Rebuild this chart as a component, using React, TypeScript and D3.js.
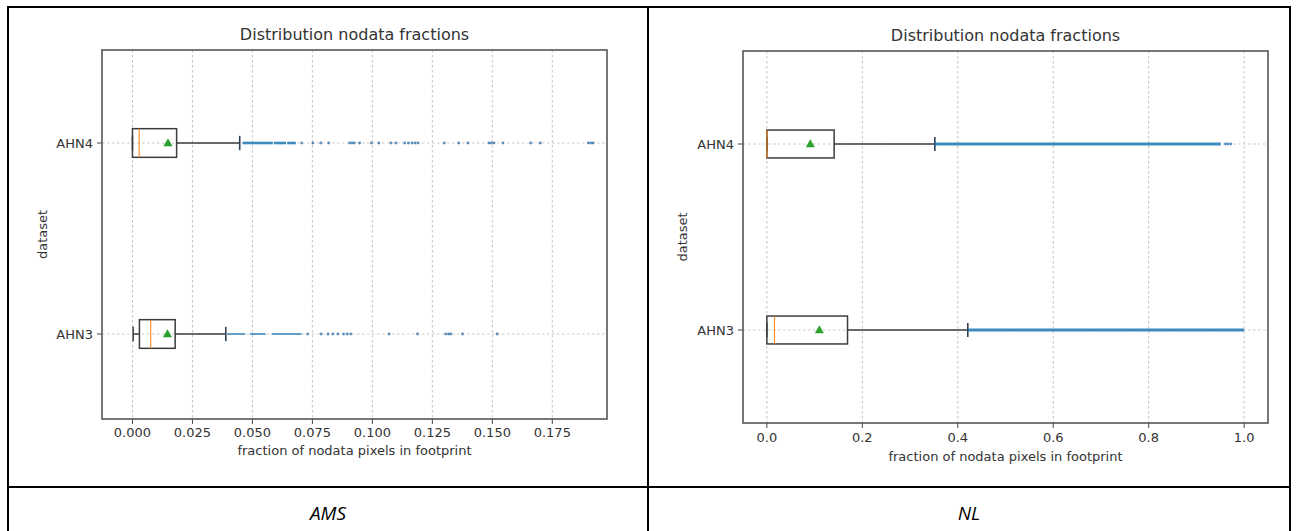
import React from "react";
import * as d3 from "d3";

// categories, bottom to top in the plot: AHN3 sits at position 1, AHN4 at 2
const datasets = ["AHN3", "AHN4"];

// AMS panel (values ordered like datasets)
const amsTicks = [0, 0.025, 0.05, 0.075, 0.1, 0.125, 0.15, 0.175];
const amsDomain = [-0.0127, 0.1978];
const amsQ1 = [0.0029, 0.0];
const amsMedian = [0.0076, 0.0028];
const amsQ3 = [0.0178, 0.0184];
const amsMean = [0.0146, 0.0148];
const amsWhiskerLo = [0.0003, 0.0];
const amsWhiskerHi = [0.0389, 0.0447];
const amsFlierRuns = [
  [[0.0395, 0.047], [0.049, 0.0555], [0.058, 0.0705]],
  [[0.0459, 0.0585], [0.059, 0.064], [0.0645, 0.0681]],
];
const amsFliers = [
  [0.073, 0.0786, 0.0815, 0.0835, 0.0856, 0.088, 0.0895, 0.091, 0.107, 0.1188,
    0.1306, 0.1318, 0.1327, 0.1376, 0.152],
  [0.0705, 0.0752, 0.0785, 0.0818, 0.0905, 0.0915, 0.0925, 0.0947, 0.0996, 0.1027,
    0.1077, 0.1098, 0.1135, 0.115, 0.1165, 0.1178, 0.119, 0.13, 0.136, 0.1398,
    0.1486, 0.1496, 0.1507, 0.1544, 0.166, 0.17, 0.19, 0.191, 0.192],
];

// NL panel
const nlTicks = [0, 0.2, 0.4, 0.6, 0.8, 1.0];
const nlDomain = [-0.05, 1.05];
const nlQ1 = [0.0, 0.0];
const nlMedian = [0.016, 0.0];
const nlQ3 = [0.169, 0.141];
const nlMean = [0.11, 0.091];
const nlWhiskerLo = [0.0, 0.0];
const nlWhiskerHi = [0.421, 0.352];
const nlFlierRuns = [[[0.421, 1.0]], [[0.352, 0.951]]];
const nlFliers = [[], [0.961, 0.966, 0.972]];

const font = "DejaVu Sans, sans-serif";
const ink = "#333";

function Panel(props: any) {
  const { box, rows, domain, ticks, fmt, q1, med, q3, mean, wlo, whi, runs, fliers, runWidth, tickY, labelY, ylabX } = props;
  const x = d3.scaleLinear().domain(domain).range([box.x0, box.x1]);
  // rows: pixel rows of position 1 (AHN3) and 2 (AHN4)
  const y = d3.scaleLinear().domain([1, 2]).range(rows);
  const fx = d3.format(fmt);
  const cx = (box.x0 + box.x1) / 2;
  const cy = (box.y0 + box.y1) / 2;

  return (
    <g>
      <text x={cx} y={box.y0 - 10} textAnchor="middle" fontFamily={font} fontSize={16} fill={ink}>
        Distribution nodata fractions
      </text>
      {ticks.map((t: number) => (
        <g key={t}>
          <line x1={x(t)} x2={x(t)} y1={box.y0} y2={box.y1} stroke="#bbb" strokeWidth={0.9} strokeDasharray="2.5,2.5" />
          <line x1={x(t)} x2={x(t)} y1={box.y1} y2={box.y1 + 5} stroke="#444" strokeWidth={1} />
          <text x={x(t)} y={tickY} textAnchor="middle" dominantBaseline="central" fontFamily={font} fontSize={13} fill={ink}>
            {fx(t)}
          </text>
        </g>
      ))}
      {datasets.map((d, i) => (
        <g key={d}>
          <line x1={box.x0} x2={box.x1} y1={y(i + 1)} y2={y(i + 1)} stroke="#c4c4c4" strokeWidth={0.9} strokeDasharray="2.5,2.5" />
          <line x1={box.x0 - 5} x2={box.x0} y1={y(i + 1)} y2={y(i + 1)} stroke="#444" strokeWidth={1} />
          <text x={box.x0 - 9} y={y(i + 1)} textAnchor="end" dominantBaseline="central" fontFamily={font} fontSize={13} fill={ink}>
            {d}
          </text>
        </g>
      ))}
      {datasets.map((d, i) => {
        const p = i + 1;
        const top = y(p + 0.075);
        const bot = y(p - 0.075);
        return (
          <g key={"box" + d}>
            <line x1={x(wlo[i])} x2={x(q1[i])} y1={y(p)} y2={y(p)} stroke="#3c3c3c" strokeWidth={1.5} />
            <line x1={x(q3[i])} x2={x(whi[i])} y1={y(p)} y2={y(p)} stroke="#3c3c3c" strokeWidth={1.5} />
            <line x1={x(wlo[i])} x2={x(wlo[i])} y1={y(p + 0.0375)} y2={y(p - 0.0375)} stroke="#3c3c3c" strokeWidth={1.5} />
            <line x1={x(whi[i])} x2={x(whi[i])} y1={y(p + 0.0375)} y2={y(p - 0.0375)} stroke="#2f3f55" strokeWidth={1.6} />
            <rect x={x(q1[i])} y={top} width={x(q3[i]) - x(q1[i])} height={bot - top} fill="none" stroke="#3c3c3c" strokeWidth={1.5} />
            <line x1={x(med[i])} x2={x(med[i])} y1={top} y2={bot} stroke="#ff7f0e" strokeWidth={1.2} opacity={0.85} />
            {runs[i].map((r: number[], k: number) => (
              <line key={k} x1={x(r[0])} x2={x(r[1])} y1={y(p)} y2={y(p)} stroke="#1f77b4" strokeWidth={runWidth[i]} opacity={0.85} />
            ))}
            {fliers[i].map((v: number, k: number) => (
              <circle key={k} cx={x(v)} cy={y(p)} r={1.4} fill="#2a6ea8" opacity={0.75} />
            ))}
            <path
              d={d3.symbol(d3.symbolTriangle, 36)() || ""}
              transform={`translate(${x(mean[i])},${y(p) + 0.5})`}
              fill="#2ca02c"
            />
          </g>
        );
      })}
      <rect x={box.x0} y={box.y0} width={box.x1 - box.x0} height={box.y1 - box.y0} fill="none" stroke="#555" strokeWidth={1.6} />
      <text x={cx} y={labelY} textAnchor="middle" dominantBaseline="central" fontFamily={font} fontSize={13} fill={ink}>
        fraction of nodata pixels in footprint
      </text>
      <text
        transform={`translate(${ylabX},${cy}) rotate(-90)`}
        textAnchor="middle"
        dominantBaseline="central"
        fontFamily={font}
        fontSize={13}
        fill={ink}
      >
        dataset
      </text>
    </g>
  );
}

export default function App() {
  const W = 1297;
  const H = 531;
  return (
    <svg width={W} height={H} style={{ position: "absolute", left: 0, top: 0, background: "#fff" }}>
      <rect x={0} y={0} width={W} height={H} fill="#fff" />
      <Panel
        box={{ x0: 102, x1: 607, y0: 50, y1: 419 }}
        rows={[334, 143]}
        domain={amsDomain}
        ticks={amsTicks}
        fmt=".3f"
        q1={amsQ1}
        med={amsMedian}
        q3={amsQ3}
        mean={amsMean}
        wlo={amsWhiskerLo}
        whi={amsWhiskerHi}
        runs={amsFlierRuns}
        fliers={amsFliers}
        runWidth={[1.6, 2.6]}
        tickY={432}
        labelY={450}
        ylabX={42}
      />
      <Panel
        box={{ x0: 743, x1: 1268, y0: 51, y1: 423 }}
        rows={[330, 144]}
        domain={nlDomain}
        ticks={nlTicks}
        fmt=".1f"
        q1={nlQ1}
        med={nlMedian}
        q3={nlQ3}
        mean={nlMean}
        wlo={nlWhiskerLo}
        whi={nlWhiskerHi}
        runs={nlFlierRuns}
        fliers={nlFliers}
        runWidth={[3, 3]}
        tickY={437}
        labelY={456}
        ylabX={682}
      />
      {/* table borders */}
      <g stroke="#000" strokeWidth={2}>
        <line x1={8} x2={1290} y1={7} y2={7} />
        <line x1={8} x2={8} y1={6} y2={531} />
        <line x1={648} x2={648} y1={6} y2={531} />
        <line x1={1290} x2={1290} y1={6} y2={531} />
        <line x1={8} x2={1290} y1={487} y2={487} />
      </g>
      <text x={328} y={513} textAnchor="middle" dominantBaseline="central" fontFamily="Open Sans, sans-serif" fontStyle="italic" fontSize={19} fill="#000">
        AMS
      </text>
      <text x={969} y={513} textAnchor="middle" dominantBaseline="central" fontFamily="Open Sans, sans-serif" fontStyle="italic" fontSize={19} fill="#000">
        NL
      </text>
    </svg>
  );
}
